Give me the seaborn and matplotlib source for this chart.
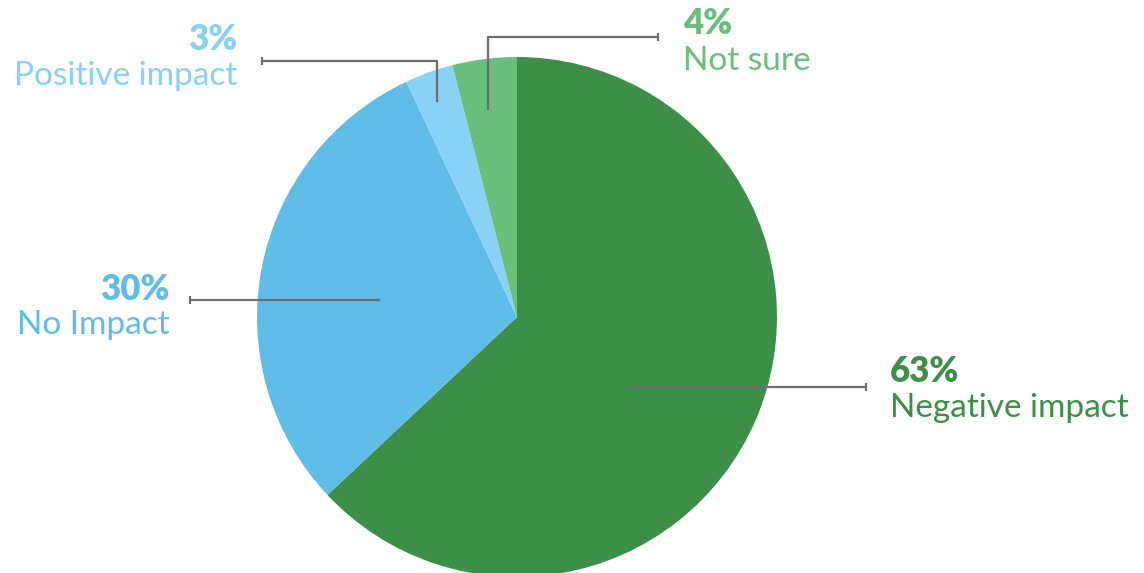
import matplotlib
matplotlib.use("Agg")
import matplotlib.pyplot as plt
import seaborn as sns

categories = ["Negative impact", "No Impact", "Positive impact", "Not sure"]
values = [63, 30, 3, 4]
pct_labels = ["63%", "30%", "3%", "4%"]
colors = ["#3d8f47", "#5fbde8", "#89d1f5", "#6abf7c"]

sns.set_theme(style="white")
plt.rcParams['font.family'] = ['Lato', 'DejaVu Sans']
palette = sns.color_palette(colors)

W, H = 1144, 573
fig = plt.figure(figsize=(W / 100, H / 100), dpi=100)
ax = fig.add_axes([0, 0, 1, 1])

def Y(py):
    return H - py

cx, cy, r = 517, 317, 260
ax.pie(values, colors=palette, startangle=90, counterclock=False,
       center=(cx, Y(cy)), radius=r, frame=True,
       wedgeprops=dict(linewidth=0))
ax.set_xlim(0, W)
ax.set_ylim(0, H)
ax.set_aspect("equal")
ax.axis("off")

line_kw = dict(color="#6e6e6e", lw=1.6, solid_capstyle="butt")
tick = 4

def leader(points):
    xs = [p[0] for p in points]
    ys = [Y(p[1]) for p in points]
    ax.plot(xs, ys, **line_kw)
    ex, ey = points[-1]
    ax.plot([ex, ex], [Y(ey - tick), Y(ey + tick)], **line_kw)

# leader lines (pixel positions)
leader([(630, 387), (866, 387)])             # Negative
leader([(380, 300), (190, 300)])             # No Impact
leader([(437, 102), (437, 61), (262, 61)])   # Positive
leader([(488, 110), (488, 37), (658, 37)])   # Not sure

fs_pct = 25
fs_lab = 24
text_pos = {
    "Negative impact": (890, 372, 408, "left"),
    "No Impact": (170, 289, 325, "right"),
    "Positive impact": (237, 40, 76, "right"),
    "Not sure": (683, 24, 61, "left"),
}
for cat, pct, col in zip(categories, pct_labels, colors):
    x, y1, y2, ha = text_pos[cat]
    ax.text(x, Y(y1), pct, color=col, fontsize=fs_pct, fontweight="heavy",
            ha=ha, va="center")
    ax.text(x, Y(y2), cat, color=col, fontsize=fs_lab, ha=ha, va="center")

fig.savefig("out.png", dpi=100)
